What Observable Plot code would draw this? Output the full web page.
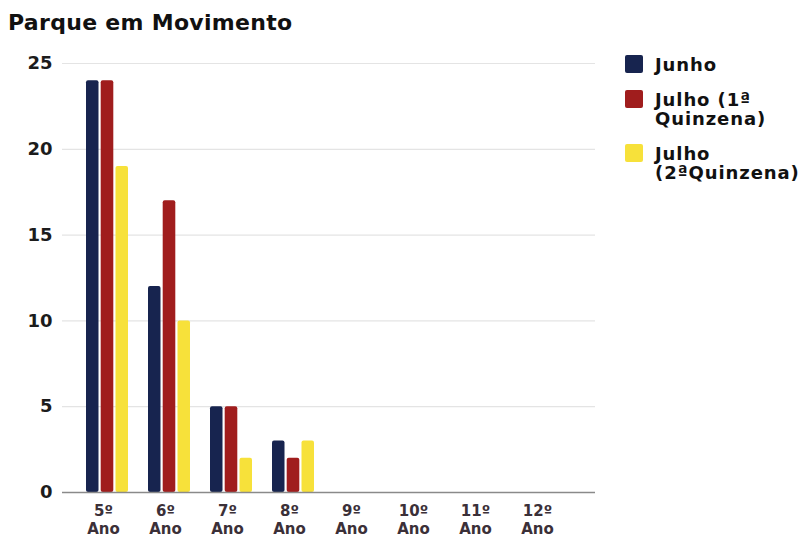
<!DOCTYPE html>
<html><head><meta charset="utf-8">
<script src="https://cdn.jsdelivr.net/npm/d3@7"></script>
<script src="https://cdn.jsdelivr.net/npm/@observablehq/plot@0.6"></script>
<style>
body{margin:0;background:#fff;font-family:"DejaVu Sans",Verdana,sans-serif;}
#wrap{position:relative;width:806px;height:540px;overflow:hidden;}
#title{position:absolute;left:8px;top:10px;font-weight:bold;font-size:22px;letter-spacing:0.3px;color:#111;white-space:nowrap;}
#chart{position:absolute;left:0;top:40px;}
#legend{position:absolute;left:625px;top:55px;font-weight:bold;font-size:18px;letter-spacing:0.9px;color:#111;line-height:19px;}
.item{position:relative;padding-left:30px;margin-bottom:16px;white-space:nowrap;}
.sw{position:absolute;left:0;top:0px;width:18px;height:18px;border-radius:2px;}
</style></head>
<body>
<div id="wrap">
  <div id="title">Parque em Movimento</div>
  <div id="chart"></div>
  <div id="legend"></div>
</div>
<script>
const categories = ["5º Ano","6º Ano","7º Ano","8º Ano","9º Ano","10º Ano","11º Ano","12º Ano"];
const seriesNames = ["Junho","Julho (1ª\nQuinzena)","Julho\n(2ªQuinzena)"];
const junho  = [24, 12, 5, 3, 0, 0, 0, 0];
const julho1 = [24, 17, 5, 2, 0, 0, 0, 0];
const julho2 = [19, 10, 2, 3, 0, 0, 0, 0];
const yTicks = [0, 5, 10, 15, 20, 25];
const colors = ["#17244f", "#a01d1d", "#f7e13a"];

const seriesValues = [junho, julho1, julho2];
const rows = seriesValues.map(vals => categories.map((c, i) => ({cat: c, value: vals[i]})));
const insets = [[0, 29.5], [14.7, 14.7], [29.5, 0]];

const plot = Plot.plot({
  width: 806,
  height: 500,
  marginLeft: 62,
  marginRight: 211,
  marginTop: 23,
  marginBottom: 48,
  style: {fontFamily: '"DejaVu Sans", Verdana, sans-serif', background: "transparent"},
  x: {domain: categories, paddingInner: 0.32, paddingOuter: 0.4, align: 0.42, label: null},
  y: {domain: [0, 25], ticks: yTicks, label: null},
  marks: [
    Plot.gridY(yTicks.filter(d => d > 0), {stroke: "#e4e4e4", strokeOpacity: 1, strokeWidth: 1.2}),
    ...rows.map((data, s) => Plot.barY(data, {
      x: "cat", y: "value", fill: colors[s],
      insetLeft: insets[s][0], insetRight: insets[s][1], rx: 2
    })),
    Plot.ruleY([0], {stroke: "#8a8a8a", strokeWidth: 1.5}),
    Plot.axisY({ticks: yTicks, tickSize: 0, tickPadding: 10, fontSize: 18, fontWeight: "bold", fill: "#1c1c1c", label: null}),
    Plot.axisX({tickSize: 0, tickPadding: 11, fontSize: 15, fontWeight: "bold", fill: "#3b3038", lineHeight: 1.2,
      dx: -4, tickFormat: d => d.replace(" ", "\n"), label: null})
  ]
});
document.getElementById("chart").appendChild(plot);

const legend = document.getElementById("legend");
seriesNames.forEach((name, i) => {
  const item = document.createElement("div");
  item.className = "item";
  const sw = document.createElement("span");
  sw.className = "sw";
  sw.style.background = colors[i];
  item.appendChild(sw);
  name.split("\n").forEach((line, j) => {
    if (j) item.appendChild(document.createElement("br"));
    item.appendChild(document.createTextNode(line));
  });
  legend.appendChild(item);
});
</script>
</body></html>
